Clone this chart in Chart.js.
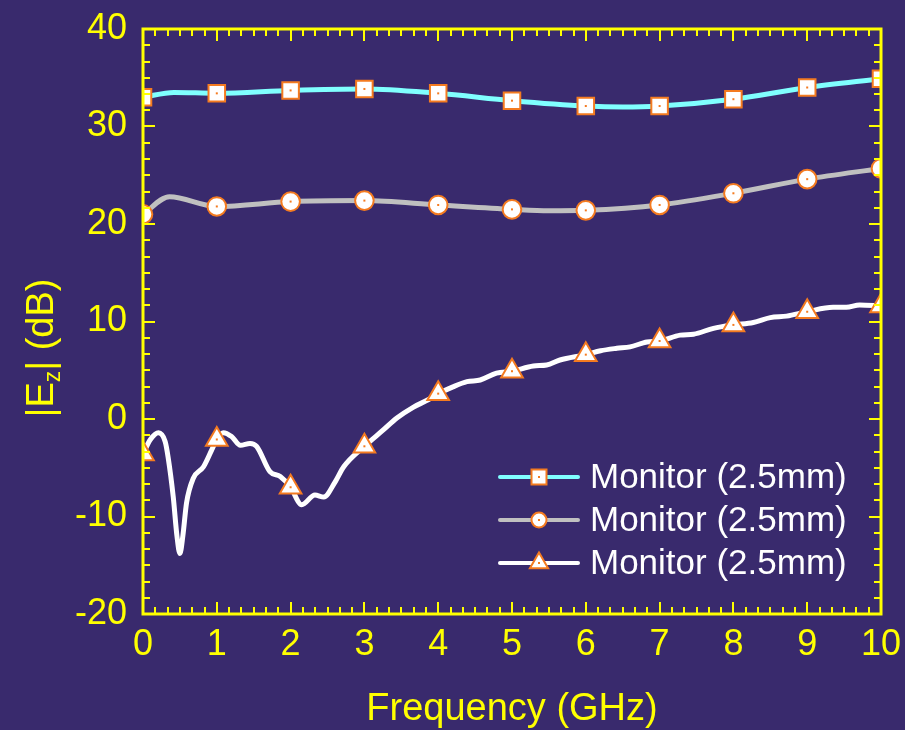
<!DOCTYPE html>
<html>
<head>
<meta charset="utf-8">
<script src="https://cdn.jsdelivr.net/npm/chart.js@4.4.1/dist/chart.umd.min.js"></script>
<style>
  html, body { margin: 0; padding: 0; background: #392A6D; }
  canvas { display: block; }
</style>
</head>
<body>
<canvas id="chart" width="905" height="730"></canvas>
<script>
// values
const labels = ['Monitor (2.5mm)', 'Monitor (2.5mm)', 'Monitor (2.5mm)'];

const freq1 = [0, 0.42, 1, 2, 3, 4, 5, 6, 6.5, 7, 8, 9, 10];
const ez1 = [33.0, 33.5, 33.4, 33.7, 33.85, 33.4, 32.65, 32.1, 32.0, 32.1, 32.8, 34.0, 34.9];

const freq2 = [0, 0.36, 1, 2, 3, 4, 5, 5.5, 6, 7, 8, 9, 10];
const ez2 = [21.0, 22.8, 21.8, 22.3, 22.4, 21.95, 21.5, 21.35, 21.4, 21.95, 23.15, 24.6, 25.7];

const freq3 = [0, 0.1, 0.21, 0.3, 0.34, 0.41, 0.46, 0.5, 0.54, 0.59, 0.68, 0.82, 0.93, 1,
    1.09, 1.2, 1.32, 1.45, 1.54, 1.72, 1.86, 2, 2.15, 2.33, 2.45, 2.6, 2.72, 3,
    3.26, 3.44, 3.66, 3.87, 4, 4.2, 4.39, 4.57, 4.79, 5, 5.29, 5.47, 5.65, 6,
    6.2, 6.42, 6.6, 6.83, 7, 7.28, 7.46, 7.73, 8, 8.27, 8.5, 8.72, 9,
    9.35, 9.53, 9.71, 10];
const ez3 = [-3.6, -2.1, -1.4, -2.3, -3.9, -8.0, -12.0, -13.8, -12.0, -8.6, -6.1, -4.9, -3.2, -2.1,
    -1.4, -1.8, -2.7, -2.5, -2.8, -5.4, -5.9, -7.0, -8.8, -7.8, -8.0, -6.5, -4.9, -2.8,
    -1.1, 0.1, 1.2, 2.0, 2.6, 3.3, 3.83, 4.0, 4.7, 4.9, 5.44, 5.54, 6.05, 6.6,
    7.0, 7.25, 7.4, 7.9, 8.0, 8.6, 8.7, 9.3, 9.65, 9.9, 10.4, 10.55, 11.0,
    11.45, 11.45, 11.7, 11.6];

const xMin = 0, xMax = 10, xStep = 1;
const yMin = -20, yMax = 40, yStep = 10;
const minorDiv = 6;

const BG = '#392A6D';
const AXIS = '#FFFF00';
const MARK_EDGE = '#F47B20';
const FONT = "'Liberation Sans', Arial, sans-serif";

const lineColors = ['#80FFFF', '#C0C0C0', '#FFFFFF'];
const markStyles = ['rect', 'circle', 'triangle'];
const markRadius = [11.7, 9.3, 12.5];

function toPoints(xs, ys) {
    return xs.map((x, i) => ({ x: x, y: ys[i] }));
}

function makeSet(i, xs, ys) {
    return {
        label: labels[i],
        data: toPoints(xs, ys),
        borderColor: lineColors[i],
        borderWidth: 5,
        cubicInterpolationMode: 'monotone',
        pointStyle: markStyles[i],
        pointRadius: c => Number.isInteger(c.raw.x) ? markRadius[i] : 0,
        pointBackgroundColor: '#FFFFFF',
        pointBorderColor: MARK_EDGE,
        pointBorderWidth: 2,
        pointHoverRadius: 0
    };
}

function drawMark(ctx, style, x, y, r) {
    ctx.beginPath();
    if (style === 'rect') {
        const s = r * Math.SQRT1_2;
        ctx.rect(x - s, y - s, 2 * s, 2 * s);
    } else if (style === 'circle') {
        ctx.arc(x, y, r, 0, Math.PI * 2);
    } else {
        for (let k = 0; k < 3; k++) {
            const a = k * 2 * Math.PI / 3;
            const px = x + Math.sin(a) * r, py = y - Math.cos(a) * r;
            if (k === 0) ctx.moveTo(px, py); else ctx.lineTo(px, py);
        }
        ctx.closePath();
    }
    ctx.fillStyle = '#FFFFFF';
    ctx.fill();
    ctx.strokeStyle = MARK_EDGE;
    ctx.lineWidth = 2;
    ctx.stroke();
}

const framePlugin = {
    id: 'frame',
    beforeDraw(chart) {
        const ctx = chart.ctx;
        ctx.save();
        ctx.fillStyle = BG;
        ctx.fillRect(0, 0, chart.width, chart.height);
        ctx.restore();
    },
    afterDatasetsDraw(chart) {
        // small orange dot in the middle of each marker
        const ctx = chart.ctx;
        const a = chart.chartArea;
        ctx.save();
        ctx.beginPath();
        ctx.rect(a.left, a.top, a.right - a.left, a.bottom - a.top);
        ctx.clip();
        ctx.fillStyle = MARK_EDGE;
        chart.data.datasets.forEach((ds, i) => {
            chart.getDatasetMeta(i).data.forEach((el, j) => {
                if (!Number.isInteger(ds.data[j].x)) return;
                ctx.fillRect(el.x - 1, el.y - 1, 2, 2);
            });
        });
        ctx.restore();
    },
    afterDraw(chart) {
        const ctx = chart.ctx;
        const { left, right, top, bottom } = chart.chartArea;
        const xs = chart.scales.x, ys = chart.scales.y;
        ctx.save();

        // inward ticks on all four sides
        ctx.strokeStyle = AXIS;
        ctx.lineWidth = 2;
        ctx.beginPath();
        const nx = (xMax - xMin) / xStep * minorDiv;
        for (let i = 0; i <= nx; i++) {
            const px = Math.round(xs.getPixelForValue(xMin + i * xStep / minorDiv));
            const len = i % minorDiv === 0 ? 12 : 7;
            ctx.moveTo(px, bottom); ctx.lineTo(px, bottom - len);
            ctx.moveTo(px, top); ctx.lineTo(px, top + len);
        }
        const ny = (yMax - yMin) / yStep * minorDiv;
        for (let i = 0; i <= ny; i++) {
            const py = Math.round(ys.getPixelForValue(yMin + i * yStep / minorDiv));
            const len = i % minorDiv === 0 ? 12 : 7;
            ctx.moveTo(left, py); ctx.lineTo(left + len, py);
            ctx.moveTo(right, py); ctx.lineTo(right - len, py);
        }
        ctx.stroke();

        ctx.lineWidth = 3;
        ctx.strokeRect(left, top, right - left, bottom - top);

        // x title
        ctx.fillStyle = AXIS;
        ctx.font = '38px ' + FONT;
        ctx.textAlign = 'center';
        ctx.textBaseline = 'alphabetic';
        ctx.fillText('Frequency (GHz)', (left + right) / 2, 720);

        // y title with subscript z
        const parts = [['|E', 38, 0], ['z', 23, 7], ['| (dB)', 38, 0]];
        let total = 0;
        parts.forEach(p => { ctx.font = p[1] + 'px ' + FONT; total += ctx.measureText(p[0]).width; });
        ctx.translate(53, 348);
        ctx.rotate(-Math.PI / 2);
        ctx.textAlign = 'left';
        let cx = -total / 2;
        parts.forEach(p => {
            ctx.font = p[1] + 'px ' + FONT;
            ctx.fillText(p[0], cx, p[2]);
            cx += ctx.measureText(p[0]).width;
        });
        ctx.setTransform(1, 0, 0, 1, 0, 0);

        // legend
        const rowY = [477, 520, 563];
        const legR = [10.6, 7.5, 10.5];
        ctx.font = '35px ' + FONT;
        ctx.textBaseline = 'middle';
        ctx.textAlign = 'left';
        labels.forEach((lab, i) => {
            const y = rowY[i];
            ctx.strokeStyle = lineColors[i];
            ctx.lineWidth = 4;
            ctx.lineCap = 'round';
            ctx.beginPath();
            ctx.moveTo(500, y); ctx.lineTo(578, y);
            ctx.stroke();
            ctx.lineCap = 'butt';
            drawMark(ctx, markStyles[i], 539, y, legR[i]);
            ctx.fillStyle = MARK_EDGE;
            ctx.fillRect(538, y - 1, 2, 2);
            ctx.fillStyle = '#FFFFFF';
            ctx.fillText(lab, 590, y + 1);
        });
        ctx.restore();
    }
};

new Chart(document.getElementById('chart'), {
    type: 'line',
    data: {
        datasets: [
            makeSet(0, freq1, ez1),
            makeSet(1, freq2, ez2),
            makeSet(2, freq3, ez3)
        ]
    },
    options: {
        responsive: false,
        animation: false,
        events: [],
        layout: { padding: { top: 29, right: 24, left: 0, bottom: 0 } },
        plugins: {
            legend: { display: false },
            tooltip: { enabled: false }
        },
        scales: {
            x: {
                type: 'linear',
                min: xMin,
                max: xMax,
                grid: { display: false, drawTicks: false },
                border: { display: false },
                ticks: {
                    stepSize: xStep,
                    color: AXIS,
                    padding: 9,
                    maxRotation: 0,
                    font: { family: FONT, size: 36 }
                },
                afterFit: s => {
                    s.height = 116;
                    s.paddingLeft = 0;
                    s.paddingRight = 0;
                }
            },
            y: {
                min: yMin,
                max: yMax,
                grid: { display: false, drawTicks: false },
                border: { display: false },
                ticks: {
                    stepSize: yStep,
                    color: AXIS,
                    padding: 16,
                    font: { family: FONT, size: 36 }
                },
                afterFit: s => {
                    s.width = 143;
                    s.paddingTop = 0;
                    s.paddingBottom = 0;
                }
            }
        }
    },
    plugins: [framePlugin]
});
</script>
</body>
</html>
